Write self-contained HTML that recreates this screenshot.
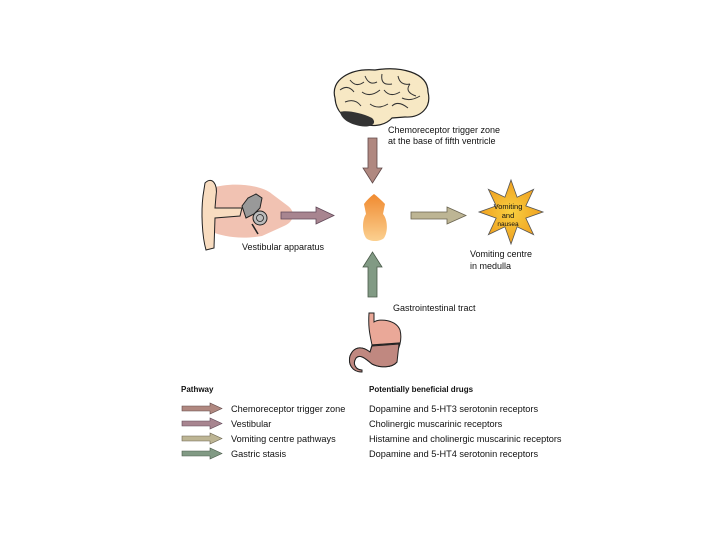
<!DOCTYPE html>
<html><head><meta charset="utf-8"><style>
html,body{margin:0;padding:0;background:#fff;}
svg{display:block;}
text{font-family:"Liberation Sans",sans-serif;fill:#111;}
</style></head><body>
<svg width="720" height="540" viewBox="0 0 720 540" xmlns="http://www.w3.org/2000/svg">
<defs>
<linearGradient id="og" x1="0" y1="0" x2="0" y2="1"><stop offset="0" stop-color="#f08a30"/><stop offset="1" stop-color="#fbd090"/></linearGradient>
<radialGradient id="sg"><stop offset="0" stop-color="#f8d040"/><stop offset="1" stop-color="#f0a020"/></radialGradient>
</defs>
<!-- brain -->
<path d="M335,98 C330,80 350,68 375,70 C400,66 428,72 428,92 C432,108 420,118 405,117 L392,118 C385,126 370,128 360,122 C345,120 336,112 335,98 Z" fill="#f7e8c4" stroke="#222" stroke-width="1.2"/>
<path d="M340,90 q8,-6 14,2 M350,80 q6,8 14,2 M365,76 q4,10 12,6 M382,74 q-2,12 10,10 M398,76 q2,10 12,8 M410,84 q-6,8 6,12 M345,102 q10,-4 16,4 M362,92 q8,6 18,-2 M384,90 q6,8 16,2 M402,98 q8,4 18,-2 M370,104 q8,6 18,0 M392,106 q6,-6 16,2" fill="none" stroke="#333" stroke-width="1"/>
<path d="M340,112 C345,110 360,112 372,118 C378,124 370,128 360,126 C350,124 342,120 340,112 Z" fill="#333"/>
<text x="388" y="133" font-size="9">Chemoreceptor trigger zone</text>
<text x="388" y="144" font-size="9">at the base of fifth ventricle</text>
<!-- down arrow -->
<polygon points="368,138 377,138 377,168 382,168 372.5,183 363,168 368,168" fill="#b08880" stroke="#604848" stroke-width="0.8"/>
<!-- ear -->
<path d="M212,188 C230,182 260,184 272,194 L288,206 C296,212 294,222 284,226 L262,236 C240,240 222,236 212,232 Z" fill="#f1c2b2"/>
<path d="M205,183 C212,176 218,184 216,196 L215,208 L242,208 L240,216 L215,218 L214,248 L206,250 C202,236 201,212 203,196 Z" fill="#f8dcc0" stroke="#222" stroke-width="1"/>
<path d="M242,206 l6,-8 8,-4 6,4 -2,10 -6,6 -8,4 z" fill="#999" stroke="#222" stroke-width="1"/>
<circle cx="260" cy="218" r="7" fill="#bbb" stroke="#222" stroke-width="1"/>
<circle cx="260" cy="218" r="3.5" fill="none" stroke="#222" stroke-width="0.8"/>
<path d="M252,224 l6,10" stroke="#222" stroke-width="1.5"/>
<text x="242" y="250" font-size="9">Vestibular apparatus</text>
<!-- right arrow vestibular -->
<polygon points="281,212 316,212 316,207 334,215.5 316,224 316,219 281,219" fill="#a88590" stroke="#604858" stroke-width="0.8"/>
<!-- medulla -->
<path d="M374,194 C370,197 367,200 364,204 L366,214 C362,220 362,232 366,238 C370,242 380,242 384,238 C388,232 388,220 383,214 L385,204 C381,200 378,197 374,194 Z" fill="url(#og)"/>
<!-- right arrow khaki -->
<polygon points="411,212 447,212 447,207 466,215.5 447,224 447,219 411,219" fill="#bdb594" stroke="#6a6450" stroke-width="0.8"/>
<!-- star -->
<polygon points="511,180 517.1,197.2 533.6,189.4 525.8,205.9 543,212 525.8,218.1 533.6,234.6 517.1,226.8 511,244 504.9,226.8 488.4,234.6 496.2,218.1 479,212 496.2,205.9 488.4,189.4 504.9,197.2" fill="url(#sg)" stroke="#555" stroke-width="0.8"/>
<text x="508" y="209" font-size="7.5" text-anchor="middle">Vomiting</text>
<text x="508" y="218" font-size="7.5" text-anchor="middle">and</text>
<text x="508" y="226" font-size="6.5" text-anchor="middle">nausea</text>
<text x="470" y="257" font-size="9">Vomiting centre</text>
<text x="470" y="269" font-size="9">in medulla</text>
<!-- up arrow -->
<polygon points="368,297 377,297 377,267 382,267 372.5,252 363,267 368,267" fill="#819a84" stroke="#4a5a4a" stroke-width="0.8"/>
<text x="393" y="311" font-size="9">Gastrointestinal tract</text>
<!-- stomach -->
<path d="M369,313 L374,313 L374,322 C380,318 396,320 400,330 C402,338 400,346 397,352 L397,362 C392,368 380,368 372,364 C365,358 360,354 356,358 C352,364 356,370 362,370 L362,372 C352,372 348,364 350,356 C354,346 362,346 370,352 L372,345 C370,335 368,328 369,313 Z" fill="#eaa898" stroke="#222" stroke-width="1"/>
<path d="M372,346 L399,344 L397,362 C392,368 380,368 372,364 C365,358 360,354 356,358 C352,364 356,370 362,370 L362,372 C352,372 348,364 350,356 C354,346 362,346 370,352 Z" fill="#c08880" stroke="#222" stroke-width="1"/>
<line x1="372" y1="345" x2="400" y2="343" stroke="#222" stroke-width="1.2"/>
<!-- legend -->
<text x="181" y="392" font-size="8" font-weight="bold">Pathway</text>
<text x="369" y="392" font-size="8" font-weight="bold">Potentially beneficial drugs</text>
<polygon points="182,406 210,406 210,403 222,408.5 210,414 210,411 182,411" fill="#b08880" stroke="#604848" stroke-width="0.6"/>
<polygon points="182,421 210,421 210,418 222,423.5 210,429 210,426 182,426" fill="#a88590" stroke="#604858" stroke-width="0.6"/>
<polygon points="182,436 210,436 210,433 222,438.5 210,444 210,441 182,441" fill="#bdb594" stroke="#6a6450" stroke-width="0.6"/>
<polygon points="182,451 210,451 210,448 222,453.5 210,459 210,456 182,456" fill="#819a84" stroke="#4a5a4a" stroke-width="0.6"/>
<g font-size="9.2">
<text x="231" y="412">Chemoreceptor trigger zone</text>
<text x="231" y="427">Vestibular</text>
<text x="231" y="442">Vomiting centre pathways</text>
<text x="231" y="457">Gastric stasis</text>
<text x="369" y="412">Dopamine and 5-HT3 serotonin receptors</text>
<text x="369" y="427">Cholinergic muscarinic receptors</text>
<text x="369" y="442">Histamine and cholinergic muscarinic receptors</text>
<text x="369" y="457">Dopamine and 5-HT4 serotonin receptors</text>
</g>
</svg>
</body></html>
